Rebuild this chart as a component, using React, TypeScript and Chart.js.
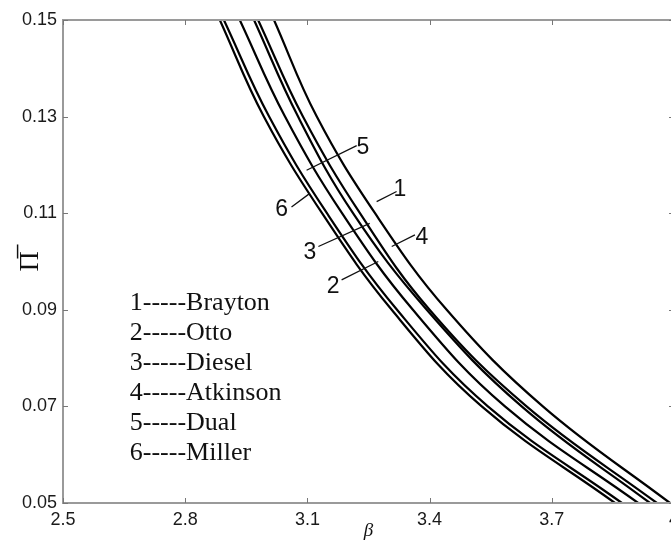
import React, { useEffect, useRef } from 'react';
import { Chart, registerables } from 'chart.js';
Chart.register(...registerables);

// ---- data ----
const seriesNames = ['Brayton', 'Otto', 'Diesel', 'Atkinson', 'Dual', 'Miller'];
const seriesNumbers = ['1', '2', '3', '4', '5', '6'];
const piLevels = [0.15, 0.13, 0.11, 0.09, 0.07, 0.05];
const betaBrayton = [3.018, 3.123, 3.266, 3.442, 3.678, 3.99];
const betaOtto = [2.934, 3.045, 3.185, 3.359, 3.585, 3.912];
const betaDiesel = [2.969, 3.077, 3.212, 3.393, 3.626, 3.941];
const betaAtkinson = [2.979, 3.089, 3.229, 3.4, 3.638, 3.958];
const betaDual = [2.895, 3.006, 3.148, 3.32, 3.543, 3.872];
const betaMiller = [2.885, 2.993, 3.136, 3.307, 3.528, 3.855];
const seriesBetas = [betaBrayton, betaOtto, betaDiesel, betaAtkinson, betaDual, betaMiller];

const xTicks = [2.5, 2.8, 3.1, 3.4, 3.7, 4.0];
const xTickLabels = ['2.5', '2.8', '3.1', '3.4', '3.7', '4'];
const yTicks = [0.05, 0.07, 0.09, 0.11, 0.13, 0.15];
const yTickLabels = ['0.05', '0.07', '0.09', '0.11', '0.13', '0.15'];

// curve number labels (data coordinates): text position, leader from / to
const numLabelBeta = [3.327, 3.163, 3.106, 3.381, 3.236, 3.037];
const numLabelPi = [0.115, 0.0951, 0.102, 0.1051, 0.1238, 0.111];
const leaderBeta1 = [3.27, 3.184, 3.127, 3.307, 3.098, 3.061];
const leaderPi1 = [0.1124, 0.0962, 0.1031, 0.1031, 0.1189, 0.1113];
const leaderBeta2 = [3.319, 3.274, 3.253, 3.364, 3.221, 3.106];
const leaderPi2 = [0.1145, 0.1, 0.1079, 0.1055, 0.124, 0.1141];

const legendBeta = 2.664;
const legendPi = 0.0914;

const boxPlugin = {
  id: 'boxPlugin',
  afterDatasetsDraw(chart: any) {
    const { ctx, chartArea } = chart;
    const { left, right, top, bottom } = chartArea;
    const xs = chart.scales.x;
    const ys = chart.scales.y;
    ctx.save();
    ctx.strokeStyle = '#9a9a9a';
    ctx.lineWidth = 2;
    ctx.beginPath();
    ctx.rect(left, top, right - left, bottom - top);
    ctx.stroke();
    ctx.lineWidth = 1;
    ctx.strokeStyle = '#777';
    ctx.beginPath();
    xTicks.forEach((v) => {
      const px = Math.round(xs.getPixelForValue(v)) + 0.5;
      ctx.moveTo(px, bottom);
      ctx.lineTo(px, bottom - 5);
      ctx.moveTo(px, top);
      ctx.lineTo(px, top + 5);
    });
    yTicks.forEach((v) => {
      const py = Math.round(ys.getPixelForValue(v)) + 0.5;
      ctx.moveTo(left, py);
      ctx.lineTo(left + 5, py);
      ctx.moveTo(right, py);
      ctx.lineTo(right - 5, py);
    });
    ctx.stroke();
    ctx.restore();
  },
  afterDraw(chart: any) {
    const { ctx } = chart;
    const xs = chart.scales.x;
    const ys = chart.scales.y;
    ctx.save();
    // leaders
    ctx.strokeStyle = '#111';
    ctx.lineWidth = 1.3;
    ctx.beginPath();
    for (let i = 0; i < seriesNumbers.length; i++) {
      ctx.moveTo(xs.getPixelForValue(leaderBeta1[i]), ys.getPixelForValue(leaderPi1[i]));
      ctx.lineTo(xs.getPixelForValue(leaderBeta2[i]), ys.getPixelForValue(leaderPi2[i]));
    }
    ctx.stroke();
    // numbers
    ctx.fillStyle = '#111';
    ctx.font = '23px "Liberation Sans", Arial, sans-serif';
    ctx.textAlign = 'center';
    ctx.textBaseline = 'middle';
    for (let i = 0; i < seriesNumbers.length; i++) {
      ctx.fillText(seriesNumbers[i], xs.getPixelForValue(numLabelBeta[i]), ys.getPixelForValue(numLabelPi[i]) + 1);
    }
    // legend text
    ctx.font = '26px "Liberation Serif", "Times New Roman", serif';
    ctx.textAlign = 'left';
    const lx = xs.getPixelForValue(legendBeta);
    const ly = ys.getPixelForValue(legendPi);
    for (let i = 0; i < seriesNames.length; i++) {
      ctx.fillText(seriesNumbers[i] + '-----' + seriesNames[i], lx, ly + i * 30);
    }
    ctx.restore();
  },
};

export default function App() {
  const ref = useRef<HTMLCanvasElement>(null);
  useEffect(() => {
    if (!ref.current) return;
    const datasets = seriesBetas.map((betas, i) => ({
      label: seriesNames[i],
      data: betas.map((b, j) => ({ x: b, y: piLevels[j] })),
      borderColor: '#000',
      borderWidth: 2.2,
      pointRadius: 0,
      fill: false,
      tension: 0.4,
    }));
    const chart = new Chart(ref.current, {
      type: 'line',
      data: { datasets },
      options: {
        responsive: false,
        animation: false,
        layout: { padding: { left: 0, top: 20, right: 16, bottom: 0 } },
        plugins: { legend: { display: false }, tooltip: { enabled: false } },
        scales: {
          x: {
            type: 'linear',
            min: 2.5,
            max: 4.0,
            afterBuildTicks: (s: any) => {
              s.ticks = xTicks.map((v) => ({ value: v }));
            },
            afterFit: (s: any) => {
              s.height = 39;
            },
            grid: { display: false, drawTicks: false },
            border: { display: false },
            ticks: {
              padding: 6,
              color: '#1a1a1a',
              font: { size: 18, family: '"Liberation Sans", Arial, sans-serif' },
              maxRotation: 0,
              autoSkip: false,
              callback: (_v: any, i: number) => xTickLabels[i],
            },
            title: {
              display: true,
              text: 'β',
              color: '#111',
              font: { size: 19, style: 'italic', family: '"Liberation Serif", serif' },
              padding: { top: 0, bottom: 0 },
            },
          },
          y: {
            type: 'linear',
            min: 0.05,
            max: 0.15,
            afterBuildTicks: (s: any) => {
              s.ticks = yTicks.map((v) => ({ value: v }));
            },
            afterFit: (s: any) => {
              s.width = 63;
            },
            grid: { display: false, drawTicks: false },
            border: { display: false },
            ticks: {
              padding: 6,
              color: '#1a1a1a',
              font: { size: 18, family: '"Liberation Sans", Arial, sans-serif' },
              autoSkip: false,
              callback: (_v: any, i: number) => yTickLabels[i],
            },
            title: {
              display: true,
              text: 'Π\u0305',
              color: '#111',
              font: { size: 28, family: '"Liberation Serif", serif' },
              padding: { top: 14, bottom: 0 },
            },
          },
        },
      },
      plugins: [boxPlugin],
    });
    return () => chart.destroy();
  }, []);
  return (
    <div style={{ position: 'absolute', left: 0, top: 0, width: 671, height: 542, overflow: 'hidden', background: '#fff' }}>
      <canvas ref={ref} width={690} height={542} style={{ display: 'block', width: 690, height: 542 }} />
    </div>
  );
}
